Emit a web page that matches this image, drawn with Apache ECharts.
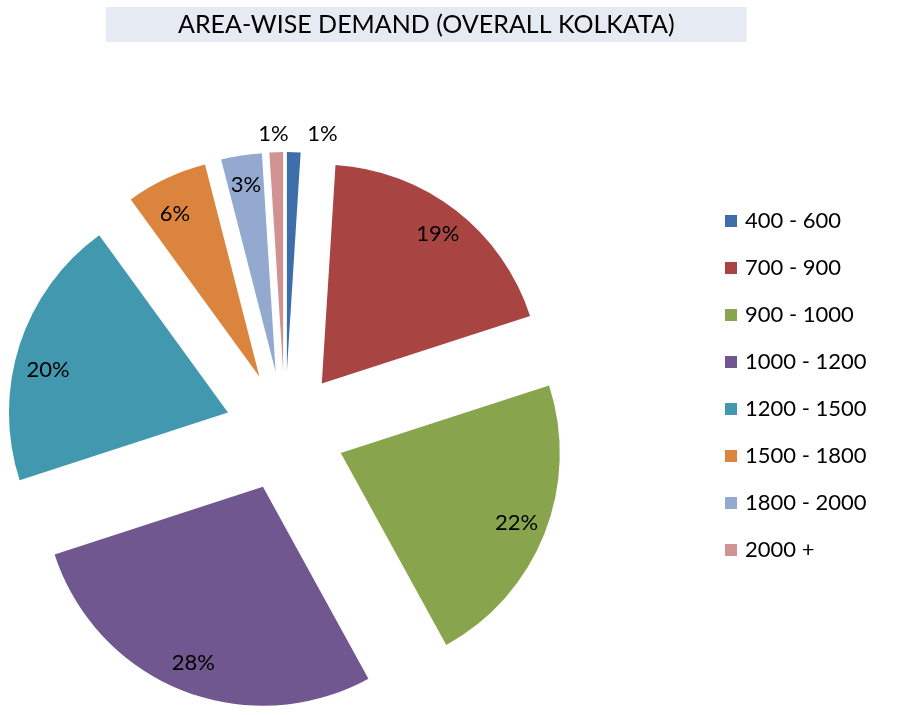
<!DOCTYPE html>
<html><head><meta charset="utf-8">
<script src="https://cdn.jsdelivr.net/npm/echarts@6/dist/echarts.min.js"></script>
<style>html,body{margin:0;padding:0;background:#fff}#c{width:900px;height:715px}</style>
</head><body><div id="c"></div>
<script>
const titleText = 'AREA-WISE DEMAND (OVERALL KOLKATA)';
const categories = ['400 - 600','700 - 900','900 - 1000','1000 - 1200','1200 - 1500','1500 - 1800','1800 - 2000','2000 +'];
const shares = [1, 19, 22, 28, 20, 6, 3, 1];
const colors = ['#3E6EAA','#A84442','#88A54D','#70578F','#4198AF','#DB843D','#93A9CF','#D09392'];
const outsideLabelIdx = [0, 7];

const FONT = 'Lato';
const chart = echarts.init(document.getElementById('c'), null, {renderer:'canvas'});
const center = [285, 431];
const R = 219;
const OFFSET = 60;

const pieData = categories.map((n,i)=>({name:n, value:shares[i], selected:true, itemStyle:{color:colors[i]}}));
const labelData = categories.map((n,i)=>{
  const o = {name:n, value:shares[i], selected:true};
  if (outsideLabelIdx.includes(i)) {
    o.label = {position:'outside'};
    o.labelLine = {show:false, length:18, length2:8};
  }
  return o;
});
// small per-label nudges (Excel "best fit" placement)
const labelNudge = {4:[0,16], 5:[-4,8], 7:[26,0]};

chart.setOption({
  animation:false,
  backgroundColor:'#fff',
  title:{
    text:titleText, left:106, top:7,
    backgroundColor:'#E6EAF3', padding:[5,72,5,72],
    textStyle:{fontFamily:FONT, fontSize:25, fontWeight:'normal', color:'#000'}
  },
  legend:{
    orient:'vertical', left:720, top:205, itemWidth:12, itemHeight:12, itemGap:25,
    icon:'rect', data:categories,
    textStyle:{fontFamily:FONT, fontSize:22, color:'#000', padding:[0,0,0,3]}
  },
  series:[
    {
      type:'pie', center:center, radius:[0,R], startAngle:90, clockwise:true,
      selectedMode:'multiple', selectedOffset:OFFSET, avoidLabelOverlap:false,
      label:{show:false}, labelLine:{show:false},
      select:{itemStyle:{borderWidth:0}},
      emphasis:{disabled:true},
      data:pieData
    },
    {
      type:'pie', center:center, radius:[R*0.7,R], startAngle:90, clockwise:true,
      selectedMode:'multiple', selectedOffset:OFFSET, avoidLabelOverlap:false,
      silent:true, itemStyle:{color:'rgba(0,0,0,0)'},
      select:{itemStyle:{color:'rgba(0,0,0,0)'}},
      label:{show:true, position:'inside', formatter:'{c}%', fontFamily:FONT, fontSize:22, color:'#000'},
      labelLine:{show:false},
      labelLayout:function(p){ const n = labelNudge[p.dataIndex]; return n ? {dx:n[0], dy:n[1]} : {}; },
      emphasis:{disabled:true},
      data:labelData
    }
  ]
});
</script></body></html>
